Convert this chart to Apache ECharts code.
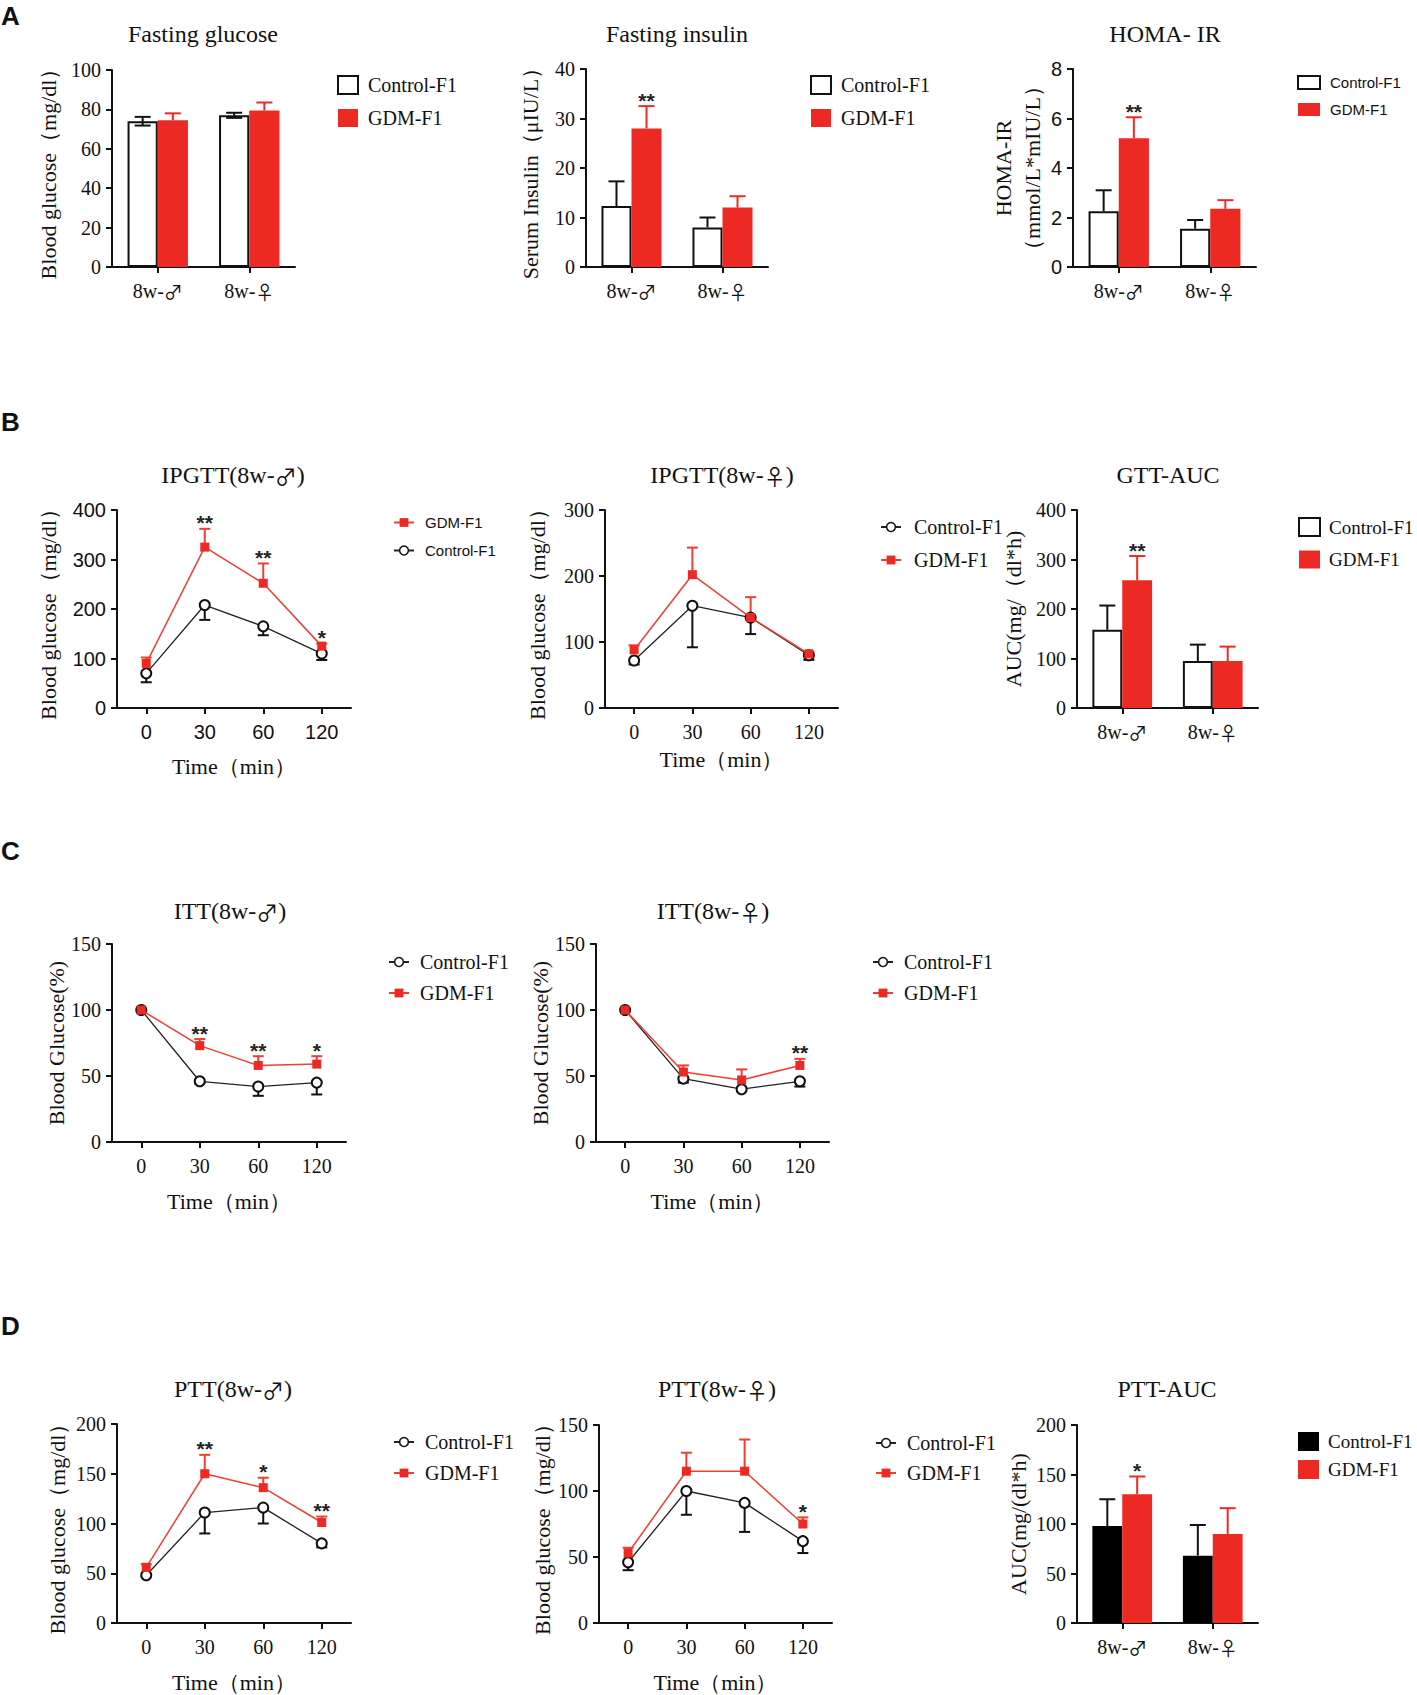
<!DOCTYPE html>
<html>
<head>
<meta charset="utf-8">
<script src="https://cdn.jsdelivr.net/npm/echarts@6/dist/echarts.min.js"></script>
<style>
  html, body { margin: 0; padding: 0; background: #fff; }
  #chart { width: 1417px; height: 1695px; }
</style>
</head>
<body>
<div id="chart"></div>
<script>
const SERIF = "'Liberation Serif', 'Times New Roman', 'DejaVu Serif', serif";
const SANS = "'Liberation Sans', Arial, 'DejaVu Sans', sans-serif";
const SYM = "'Noto Sans CJK SC', 'DejaVu Sans', sans-serif";
const INK = '#111';
const RED = '#ec2a23';
const RED_LINE = '#ef3e33';

// categories
const sexGroups = ['8w-♂', '8w-♀'];
const timePoints = ['0', '30', '60', '120'];

// A - fasting measures (mean, SEM)
const fgCtrl = [74, 77], fgCtrlSem = [2.2, 1.3];
const fgGdm = [74.5, 79.5], fgGdmSem = [3.5, 4];
const fiCtrl = [12.3, 8], fiCtrlSem = [5, 2];
const fiGdm = [28, 12], fiGdmSem = [4.5, 2.3];
const fiSig = ['**', ''];
const homaCtrl = [2.25, 1.55], homaCtrlSem = [0.85, 0.35];
const homaGdm = [5.2, 2.35], homaGdmSem = [0.85, 0.35];
const homaSig = ['**', ''];

// B - IPGTT
const gttMaleCtrl = [70, 208, 165, 110], gttMaleCtrlSem = [18, 30, 18, 13];
const gttMaleGdm = [90, 325, 252, 125], gttMaleGdmSem = [12, 37, 40, 5];
const gttMaleSig = ['', '**', '**', '*'];
const gttFemCtrl = [72, 155, 137, 80], gttFemCtrlSem = [6, 63, 25, 7];
const gttFemGdm = [88, 202, 137, 82], gttFemGdmSem = [7, 41, 31, 3];
const gttFemSig = ['', '', '', ''];
const gttAucCtrl = [158, 95], gttAucCtrlSem = [49, 33];
const gttAucGdm = [258, 95], gttAucGdmSem = [49, 29];
const gttAucSig = ['**', ''];

// C - ITT (% of baseline)
const ittMaleCtrl = [100, 46, 42, 45], ittMaleCtrlSem = [0, 1.5, 7, 9];
const ittMaleGdm = [100, 73, 58, 59], ittMaleGdmSem = [0, 5, 7, 6];
const ittMaleSig = ['', '**', '**', '*'];
const ittFemCtrl = [100, 48, 40, 46], ittFemCtrlSem = [0, 3, 1.5, 4];
const ittFemGdm = [100, 53, 47, 58], ittFemGdmSem = [0, 5, 8, 5];
const ittFemSig = ['', '', '', '**'];

// D - PTT
const pttMaleCtrl = [48, 111, 116, 80], pttMaleCtrlSem = [1, 21, 16, 4];
const pttMaleGdm = [56, 150, 136, 101], pttMaleGdmSem = [3, 19, 10, 6];
const pttMaleSig = ['', '**', '*', '**'];
const pttFemCtrl = [46, 100, 91, 62], pttFemCtrlSem = [6, 18, 22, 9];
const pttFemGdm = [53, 115, 115, 75], pttFemGdmSem = [4, 14, 24, 5];
const pttFemSig = ['', '', '', '*'];
const pttAucCtrl = [98, 68], pttAucCtrlSem = [27, 31];
const pttAucGdm = [130, 90], pttAucGdmSem = [18, 26];
const pttAucSig = ['*', ''];

const grids = [], xAxes = [], yAxes = [], series = [], legends = [], graphics = [];

// wrap the sex symbols in a rich-text tag so they get a font that has big glyphs
const withSym = s => s.replace(/([♂♀])/g, '{g|$1}');

function addText(x, y, text, font, align, symSize) {
  graphics.push({
    type: 'text', x, y, silent: true,
    style: {
      text: withSym(text), font, fill: INK,
      rich: { g: { fontFamily: SYM, fontSize: symSize || 22, fill: INK } },
      align: align || 'center', textAlign: align || 'center',
      verticalAlign: 'middle', textVerticalAlign: 'middle'
    }
  });
}

function addPanel(c) {
  const k = grids.length;
  grids.push({ left: c.left, top: c.top, width: c.width, height: c.height, containLabel: false, outerBoundsMode: 'none' });
  xAxes.push({
    gridIndex: k, type: 'category', data: c.cats, boundaryGap: true,
    axisLine: { show: true, lineStyle: { color: INK, width: 2 } },
    axisTick: { show: true, alignWithLabel: true, length: 6, lineStyle: { color: INK, width: 2 } },
    axisLabel: { color: INK, fontFamily: c.xFont || SERIF, fontSize: 20, margin: 14, interval: 0,
      formatter: withSym, rich: { g: { fontFamily: SYM, fontSize: 19, color: INK } } },
    splitLine: { show: false },
    name: c.xName || '', nameLocation: 'middle', nameGap: c.xGap || 48,
    nameTextStyle: { color: INK, fontFamily: SERIF, fontSize: 22, lineHeight: 22 }
  });
  yAxes.push({
    gridIndex: k, type: 'value', min: 0, max: c.max, interval: c.interval,
    axisLine: { show: true, lineStyle: { color: INK, width: 2 } },
    axisTick: { show: true, length: 6, lineStyle: { color: INK, width: 2 } },
    axisLabel: { color: INK, fontFamily: c.yFont || SERIF, fontSize: 20, margin: 11 },
    splitLine: { show: false },
    name: c.yName, nameLocation: 'middle', nameGap: c.yGap, nameRotate: 90,
    nameTextStyle: { color: INK, fontFamily: SERIF, fontSize: 22, lineHeight: c.yLine || 22 }
  });
  addText(c.titleX, c.titleY, c.title, '24px ' + SERIF);
  return k;
}

// vertical error bar drawn from the mean toward mean +/- sem
function errorBars(k, means, sems, dir, color, shift, capW) {
  return {
    type: 'custom', xAxisIndex: k, yAxisIndex: k, z: 3, silent: true,
    data: means.map((m, i) => [i, m, sems[i]]),
    renderItem(params, api) {
      const i = api.value(0), m = api.value(1), e = api.value(2);
      if (!e) return;
      const band = api.size([1, 0])[0];
      const p = api.coord([i, m]);
      const x = p[0] + shift * band;
      const kids = [];
      const ends = [];
      if (dir !== 'down') ends.push(api.coord([i, m + e])[1]);
      if (dir !== 'up') ends.push(api.coord([i, m - e])[1]);
      ends.forEach(y => {
        kids.push({ type: 'line', shape: { x1: x, y1: p[1], x2: x, y2: y }, style: { stroke: color, lineWidth: 2 } });
        kids.push({ type: 'line', shape: { x1: x - capW / 2, y1: y, x2: x + capW / 2, y2: y }, style: { stroke: color, lineWidth: 2 } });
      });
      return { type: 'group', children: kids };
    }
  };
}

function stars(k, means, sems, marks, shift) {
  return {
    type: 'custom', xAxisIndex: k, yAxisIndex: k, z: 6, silent: true,
    data: means.map((m, i) => [i, m + sems[i]]),
    renderItem(params, api) {
      const t = marks[params.dataIndex];
      if (!t) return;
      const band = api.size([1, 0])[0];
      const p = api.coord([api.value(0), api.value(1)]);
      return {
        type: 'text', x: p[0] + shift * band, y: p[1] - 6,
        style: { text: t, fill: '#222', font: 'bold 21px ' + SANS, align: 'center', verticalAlign: 'middle' }
      };
    }
  };
}

const OPEN_BAR = { color: '#fff', borderColor: INK, borderWidth: 2 };
const BLACK_BAR = { color: '#000' };

function addBars(k, tag, ctrl, ctrlSem, gdm, gdmSem, sig, ctrlStyle, ctrlDir) {
  series.push({ type: 'bar', name: 'Control-F1#' + tag, xAxisIndex: k, yAxisIndex: k, data: ctrl,
    barWidth: '33%', barGap: '0%', itemStyle: ctrlStyle, z: 2 });
  series.push({ type: 'bar', name: 'GDM-F1#' + tag, xAxisIndex: k, yAxisIndex: k, data: gdm,
    barWidth: '33%', barGap: '0%', itemStyle: { color: RED }, z: 2 });
  series.push(errorBars(k, ctrl, ctrlSem, ctrlDir || 'up', INK, -0.165, 16));
  series.push(errorBars(k, gdm, gdmSem, 'up', RED, 0.165, 16));
  if (sig) series.push(stars(k, gdm, gdmSem, sig, 0.165));
}

function addLines(k, tag, ctrl, ctrlSem, gdm, gdmSem, sig) {
  series.push(errorBars(k, ctrl, ctrlSem, 'down', INK, 0, 11));
  series.push(errorBars(k, gdm, gdmSem, 'up', RED_LINE, 0, 11));
  series.push({ type: 'line', name: 'Control-F1#' + tag, xAxisIndex: k, yAxisIndex: k, data: ctrl,
    symbol: 'circle', symbolSize: 10, z: 4,
    lineStyle: { color: '#222', width: 1.3 },
    itemStyle: { color: '#fff', borderColor: INK, borderWidth: 2 } });
  series.push({ type: 'line', name: 'GDM-F1#' + tag, xAxisIndex: k, yAxisIndex: k, data: gdm,
    symbol: 'rect', symbolSize: 9, z: 5,
    lineStyle: { color: RED_LINE, width: 1.5 },
    itemStyle: { color: RED } });
  if (sig) series.push(stars(k, gdm, gdmSem, sig, 0));
}

function addLegend(c) {
  legends.push({
    orient: 'vertical', left: c.left, top: c.top, padding: 0,
    itemWidth: c.iw, itemHeight: c.ih, itemGap: c.gap, selectedMode: false,
    formatter: n => n.split('#')[0],
    textStyle: { color: INK, fontFamily: c.font, fontSize: c.size, lineHeight: c.size, padding: [0, 0, 0, c.pad] },
    data: c.items
  });
}

function barLegend(tag, left, top, gap, font, size, iw, ih, ctrlStyle, pad) {
  addLegend({ left, top, gap, font, size, iw, ih, pad: pad == null ? 5 : pad, items: [
    { name: 'Control-F1#' + tag, icon: 'rect', itemStyle: ctrlStyle },
    { name: 'GDM-F1#' + tag, icon: 'rect', itemStyle: { color: RED, borderWidth: 0 } }
  ] });
}

function lineLegend(tag, left, top, gap, font, size, pad, gdmFirst) {
  const items = [
    { name: 'Control-F1#' + tag, itemStyle: { color: '#fff', borderColor: INK, borderWidth: 1.5 } },
    { name: 'GDM-F1#' + tag }
  ];
  if (gdmFirst) items.reverse();
  addLegend({ left, top, gap, font, size, iw: 20, ih: 11, pad, items });
}

// ---- A ----
const A1 = addPanel({ left: 112, top: 70, width: 183, height: 197, cats: sexGroups, max: 100, interval: 20,
  yName: 'Blood glucose（mg/dl）', yGap: 53, title: 'Fasting glucose', titleX: 203, titleY: 34 });
addBars(A1, 'A1', fgCtrl, fgCtrlSem, fgGdm, fgGdmSem, null, OPEN_BAR, 'both');
barLegend('A1', 337, 75, 13, SERIF, 20, 20, 18, OPEN_BAR);

const A2 = addPanel({ left: 586, top: 69, width: 182, height: 198, cats: sexGroups, max: 40, interval: 10,
  yName: 'Serum Insulin（μIU/L）', yGap: 45, title: 'Fasting insulin', titleX: 677, titleY: 34 });
addBars(A2, 'A2', fiCtrl, fiCtrlSem, fiGdm, fiGdmSem, fiSig, OPEN_BAR);
barLegend('A2', 810, 75, 13, SERIF, 20, 20, 18, OPEN_BAR);

const A3 = addPanel({ left: 1073, top: 69, width: 183, height: 198, cats: sexGroups, max: 8, interval: 2,
  yFont: SANS, yName: 'HOMA-IR\n（mmol/L*mIU/L）', yGap: 22, yLine: 29,
  title: 'HOMA- IR', titleX: 1165, titleY: 34 });
addBars(A3, 'A3', homaCtrl, homaCtrlSem, homaGdm, homaGdmSem, homaSig, OPEN_BAR);
barLegend('A3', 1297, 75, 12, SANS, 15, 22, 13, OPEN_BAR);

// ---- B ----
const B1 = addPanel({ left: 117, top: 510, width: 234, height: 198, cats: timePoints, max: 400, interval: 100,
  xFont: SANS, yFont: SANS, xName: 'Time（min）', xGap: 47,
  yName: 'Blood glucose（mg/dl）', yGap: 58, title: 'IPGTT(8w-♂)', titleX: 233, titleY: 475 });
addLines(B1, 'B1', gttMaleCtrl, gttMaleCtrlSem, gttMaleGdm, gttMaleGdmSem, gttMaleSig);
lineLegend('B1', 393, 515, 13, SANS, 15, 6, true);

const B2 = addPanel({ left: 605, top: 510, width: 233, height: 198, cats: timePoints, max: 300, interval: 100,
  xName: 'Time（min）', xGap: 40,
  yName: 'Blood glucose（mg/dl）', yGap: 57, title: 'IPGTT(8w-♀)', titleX: 722, titleY: 475 });
addLines(B2, 'B2', gttFemCtrl, gttFemCtrlSem, gttFemGdm, gttFemGdmSem, gttFemSig);
lineLegend('B2', 880, 517, 13, SERIF, 20, 8, false);

const B3 = addPanel({ left: 1077, top: 510, width: 181, height: 198, cats: sexGroups, max: 400, interval: 100,
  yName: 'AUC(mg/（dl*h)', yGap: 53, title: 'GTT-AUC', titleX: 1168, titleY: 475 });
addBars(B3, 'B3', gttAucCtrl, gttAucCtrlSem, gttAucGdm, gttAucGdmSem, gttAucSig, OPEN_BAR);
barLegend('B3', 1298, 517, 13, SERIF, 19, 21, 18, OPEN_BAR, 4);

// ---- C ----
const C1 = addPanel({ left: 112, top: 944, width: 234, height: 198, cats: timePoints, max: 150, interval: 50,
  xName: 'Time（min）', xGap: 48,
  yName: 'Blood Glucose(%)', yGap: 39, title: 'ITT(8w-♂)', titleX: 230, titleY: 911 });
addLines(C1, 'C1', ittMaleCtrl, ittMaleCtrlSem, ittMaleGdm, ittMaleGdmSem, ittMaleSig);
lineLegend('C1', 388, 952, 11, SERIF, 20, 6, false);

const C2 = addPanel({ left: 596, top: 944, width: 233, height: 198, cats: timePoints, max: 150, interval: 50,
  xName: 'Time（min）', xGap: 48,
  yName: 'Blood Glucose(%)', yGap: 43, title: 'ITT(8w-♀)', titleX: 713, titleY: 911 });
addLines(C2, 'C2', ittFemCtrl, ittFemCtrlSem, ittFemGdm, ittFemGdmSem, ittFemSig);
lineLegend('C2', 872, 952, 11, SERIF, 20, 6, false);

// ---- D ----
const D1 = addPanel({ left: 117, top: 1424, width: 234, height: 199, cats: timePoints, max: 200, interval: 50,
  xName: 'Time（min）', xGap: 48,
  yName: 'Blood glucose（mg/dl）', yGap: 49, title: 'PTT(8w-♂)', titleX: 233, titleY: 1389 });
addLines(D1, 'D1', pttMaleCtrl, pttMaleCtrlSem, pttMaleGdm, pttMaleGdmSem, pttMaleSig);
lineLegend('D1', 393, 1432, 11, SERIF, 20, 6, false);

const D2 = addPanel({ left: 599, top: 1425, width: 233, height: 198, cats: timePoints, max: 150, interval: 50,
  xName: 'Time（min）', xGap: 48,
  yName: 'Blood glucose（mg/dl）', yGap: 46, title: 'PTT(8w-♀)', titleX: 717, titleY: 1389 });
addLines(D2, 'D2', pttFemCtrl, pttFemCtrlSem, pttFemGdm, pttFemGdmSem, pttFemSig);
lineLegend('D2', 875, 1433, 10, SERIF, 20, 6, false);

const D3 = addPanel({ left: 1077, top: 1425, width: 181, height: 198, cats: sexGroups, max: 200, interval: 50,
  yName: 'AUC(mg/(dl*h)', yGap: 48, title: 'PTT-AUC', titleX: 1167, titleY: 1389 });
addBars(D3, 'D3', pttAucCtrl, pttAucCtrlSem, pttAucGdm, pttAucGdmSem, pttAucSig, BLACK_BAR);
barLegend('D3', 1298, 1432, 9, SERIF, 19, 21, 19, BLACK_BAR, 4);

// panel letters
addText(1, 16, 'A', 'bold 26px ' + SANS, 'left');
addText(1, 422, 'B', 'bold 26px ' + SANS, 'left');
addText(1, 851, 'C', 'bold 26px ' + SANS, 'left');
addText(1, 1326, 'D', 'bold 26px ' + SANS, 'left');

const chart = echarts.init(document.getElementById('chart'), null, { renderer: 'svg', width: 1417, height: 1695 });
chart.setOption({
  animation: false,
  backgroundColor: '#fff',
  grid: grids,
  xAxis: xAxes,
  yAxis: yAxes,
  legend: legends,
  series: series,
  graphic: { elements: graphics }
});
</script>
</body>
</html>
